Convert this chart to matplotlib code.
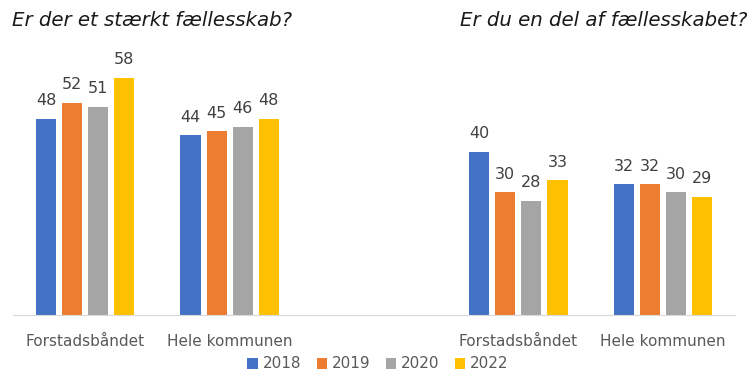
import matplotlib.pyplot as plt
import numpy as np

# Data
years = ["2018", "2019", "2020", "2022"]
groups = ["Forstadsbåndet", "Hele kommunen"]
staerkt = {
    "2018": [48, 44],
    "2019": [52, 45],
    "2020": [51, 46],
    "2022": [58, 48],
}
del_af = {
    "2018": [40, 32],
    "2019": [30, 32],
    "2020": [28, 30],
    "2022": [33, 29],
}
colors = ["#4472C4", "#ED7D31", "#A5A5A5", "#FFC000"]

title_left = "Er der et stærkt fællesskab?"
title_right = "Er du en del af fællesskabet?"

fig = plt.figure(figsize=(7.54, 3.73), dpi=100)
ax = fig.add_axes([13 / 754, 58 / 373, 722 / 754, 286 / 373])

# five category slots, the middle one is left empty
left_x = np.array([0, 1])
right_x = np.array([3, 4])
width = 20 / 144
step = 26 / 144

handles = []
for i, (yr, col) in enumerate(zip(years, colors)):
    off = (i - 1.5) * step
    b = ax.bar(left_x + off, staerkt[yr], width, color=col, label=yr)
    ax.bar(right_x + off, del_af[yr], width, color=col)
    handles.append(b)
    for x, v in zip(left_x + off, staerkt[yr]):
        ax.text(x, v + 2.6, str(v), ha="center", va="bottom", fontsize=11.5, color="#404040")
    for x, v in zip(right_x + off, del_af[yr]):
        ax.text(x, v + 2.6, str(v), ha="center", va="bottom", fontsize=11.5, color="#404040")

ax.set_xlim(-0.5, 4.5)
ax.set_ylim(0, 70)
ax.set_yticks([])
ax.set_xticks(list(left_x) + list(right_x))
ax.set_xticklabels(groups + groups, fontsize=11, color="#595959")
ax.tick_params(axis="x", length=0, pad=14)
for s in ["top", "right", "left"]:
    ax.spines[s].set_visible(False)
ax.spines["bottom"].set_color("#D9D9D9")

fig.text(12 / 754, 1 - 21 / 373, title_left, fontsize=14.2, style="italic",
         family="DejaVu Sans", color="#1a1a1a", va="center", ha="left")
fig.text(748 / 754, 1 - 21 / 373, title_right, fontsize=14.2, style="italic",
         family="DejaVu Sans", color="#1a1a1a", va="center", ha="right")

fig.legend(handles=handles, labels=years, loc="center", bbox_to_anchor=(378 / 754, 1 - 364 / 373),
           ncol=4, frameon=False, fontsize=11, handlelength=0.7, handleheight=0.7,
           handletextpad=0.3, columnspacing=1.0, labelcolor="#595959")

plt.savefig("out.png", dpi=100)
